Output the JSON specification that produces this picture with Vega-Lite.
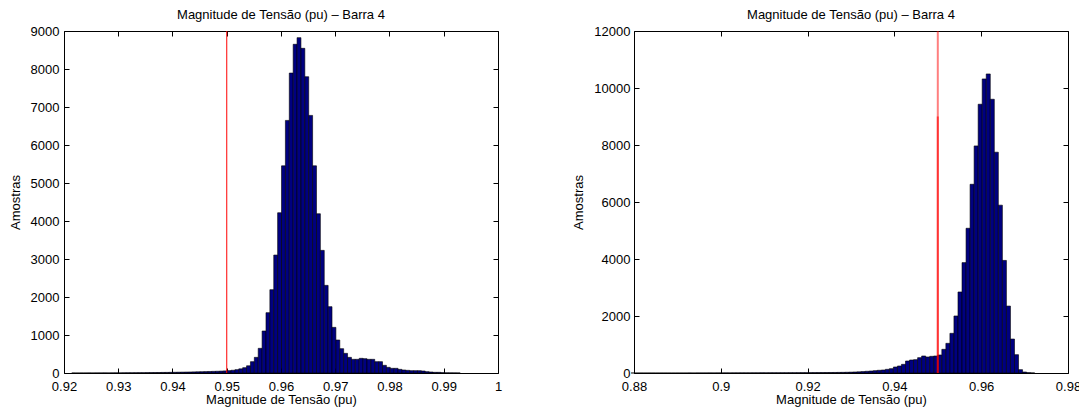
{
  "$schema": "https://vega.github.io/schema/vega-lite/v6.json",
  "background": "white",
  "padding": {"left": 8, "top": 8, "right": 0, "bottom": 0},
  "spacing": 69,
  "config": {
    "font": "Liberation Sans",
    "view": {"stroke": "black", "strokeWidth": 1},
    "axis": {
      "grid": false, "domain": false, "tickColor": "black", "labelColor": "black", "titleColor": "black",
      "labelFont": "Liberation Sans", "titleFont": "Liberation Sans", "labelFontSize": 13, "titleFontSize": 13,
      "titleFontWeight": "normal", "tickSize": -5, "tickWidth": 1, "labelFlush": false, "labelOverlap": false
    },
    "title": {"font": "Liberation Sans", "fontSize": 13, "fontWeight": "normal", "color": "black", "offset": 3}
  },
  "datasets": {
    "left": [
      {"x0":0.921432,"x1":0.922148,"n":1},{"x0":0.922148,"x1":0.922864,"n":0},{"x0":0.922864,"x1":0.92358,"n":1},
      {"x0":0.92358,"x1":0.924296,"n":1},{"x0":0.924296,"x1":0.925012,"n":2},{"x0":0.925012,"x1":0.925728,"n":1},
      {"x0":0.925728,"x1":0.926444,"n":2},{"x0":0.926444,"x1":0.92716,"n":2},{"x0":0.92716,"x1":0.927876,"n":3},
      {"x0":0.927876,"x1":0.928592,"n":2},{"x0":0.928592,"x1":0.929308,"n":3},{"x0":0.929308,"x1":0.930024,"n":4},
      {"x0":0.930024,"x1":0.93074,"n":3},{"x0":0.93074,"x1":0.931456,"n":5},{"x0":0.931456,"x1":0.932172,"n":5},
      {"x0":0.932172,"x1":0.932888,"n":6},{"x0":0.932888,"x1":0.933604,"n":7},{"x0":0.933604,"x1":0.93432,"n":8},
      {"x0":0.93432,"x1":0.935036,"n":8},{"x0":0.935036,"x1":0.935752,"n":10},{"x0":0.935752,"x1":0.936468,"n":11},
      {"x0":0.936468,"x1":0.937184,"n":12},{"x0":0.937184,"x1":0.9379,"n":13},{"x0":0.9379,"x1":0.938616,"n":15},
      {"x0":0.938616,"x1":0.939332,"n":16},{"x0":0.939332,"x1":0.940048,"n":18},{"x0":0.940048,"x1":0.940764,"n":19},
      {"x0":0.940764,"x1":0.94148,"n":21},{"x0":0.94148,"x1":0.942196,"n":23},{"x0":0.942196,"x1":0.942912,"n":25},
      {"x0":0.942912,"x1":0.943628,"n":27},{"x0":0.943628,"x1":0.944344,"n":29},{"x0":0.944344,"x1":0.94506,"n":32},
      {"x0":0.94506,"x1":0.945776,"n":34},{"x0":0.945776,"x1":0.946492,"n":37},{"x0":0.946492,"x1":0.947208,"n":40},
      {"x0":0.947208,"x1":0.947924,"n":43},{"x0":0.947924,"x1":0.94864,"n":46},{"x0":0.94864,"x1":0.949356,"n":50},
      {"x0":0.949356,"x1":0.950072,"n":55},{"x0":0.950072,"x1":0.950788,"n":62},{"x0":0.950788,"x1":0.951504,"n":72},
      {"x0":0.951504,"x1":0.95222,"n":88},{"x0":0.95222,"x1":0.952936,"n":110},{"x0":0.952936,"x1":0.953652,"n":140},
      {"x0":0.953652,"x1":0.954368,"n":190},{"x0":0.954368,"x1":0.955084,"n":298},{"x0":0.955084,"x1":0.9558,"n":412},
      {"x0":0.9558,"x1":0.956516,"n":649},{"x0":0.956516,"x1":0.957232,"n":1105},{"x0":0.957232,"x1":0.957948,"n":1587},
      {"x0":0.957948,"x1":0.958664,"n":2192},{"x0":0.958664,"x1":0.95938,"n":3104},{"x0":0.95938,"x1":0.960096,"n":4217},
      {"x0":0.960096,"x1":0.960812,"n":5452},{"x0":0.960812,"x1":0.961528,"n":6647},{"x0":0.961528,"x1":0.962244,"n":7893},
      {"x0":0.962244,"x1":0.96296,"n":8650},{"x0":0.96296,"x1":0.963676,"n":8825},{"x0":0.963676,"x1":0.964392,"n":8544},
      {"x0":0.964392,"x1":0.965108,"n":7797},{"x0":0.965108,"x1":0.965824,"n":6779},{"x0":0.965824,"x1":0.96654,"n":5452},
      {"x0":0.96654,"x1":0.967256,"n":4191},{"x0":0.967256,"x1":0.967972,"n":3227},{"x0":0.967972,"x1":0.968688,"n":2306},
      {"x0":0.968688,"x1":0.969404,"n":1745},{"x0":0.969404,"x1":0.97012,"n":1201},{"x0":0.97012,"x1":0.970836,"n":868},
      {"x0":0.970836,"x1":0.971552,"n":640},{"x0":0.971552,"x1":0.972268,"n":517},{"x0":0.972268,"x1":0.972984,"n":412},
      {"x0":0.972984,"x1":0.9737,"n":360},{"x0":0.9737,"x1":0.974416,"n":360},{"x0":0.974416,"x1":0.975132,"n":386},
      {"x0":0.975132,"x1":0.975848,"n":377},{"x0":0.975848,"x1":0.976564,"n":360},{"x0":0.976564,"x1":0.97728,"n":360},
      {"x0":0.97728,"x1":0.977996,"n":298},{"x0":0.977996,"x1":0.978712,"n":298},{"x0":0.978712,"x1":0.979428,"n":202},
      {"x0":0.979428,"x1":0.980144,"n":149},{"x0":0.980144,"x1":0.98086,"n":123},{"x0":0.98086,"x1":0.981576,"n":123},
      {"x0":0.981576,"x1":0.982292,"n":96},{"x0":0.982292,"x1":0.983008,"n":79},{"x0":0.983008,"x1":0.983724,"n":70},
      {"x0":0.983724,"x1":0.98444,"n":61},{"x0":0.98444,"x1":0.985156,"n":61},{"x0":0.985156,"x1":0.985872,"n":61},
      {"x0":0.985872,"x1":0.986588,"n":53},{"x0":0.986588,"x1":0.987304,"n":35},{"x0":0.987304,"x1":0.98802,"n":26},
      {"x0":0.98802,"x1":0.988736,"n":18},{"x0":0.988736,"x1":0.989452,"n":18},{"x0":0.989452,"x1":0.990168,"n":9},
      {"x0":0.990168,"x1":0.990884,"n":5},{"x0":0.990884,"x1":0.9916,"n":4},{"x0":0.9916,"x1":0.992316,"n":3},
      {"x0":0.992316,"x1":0.993032,"n":2}
    ],
    "right": [
      {"x0":0.87932,"x1":0.88025,"n":1},{"x0":0.88025,"x1":0.88118,"n":0},{"x0":0.88118,"x1":0.88211,"n":1},
      {"x0":0.88211,"x1":0.88304,"n":0},{"x0":0.88304,"x1":0.88397,"n":1},{"x0":0.88397,"x1":0.8849,"n":1},
      {"x0":0.8849,"x1":0.88583,"n":0},{"x0":0.88583,"x1":0.88676,"n":1},{"x0":0.88676,"x1":0.88769,"n":1},
      {"x0":0.88769,"x1":0.88862,"n":1},{"x0":0.88862,"x1":0.88955,"n":0},{"x0":0.88955,"x1":0.89048,"n":1},
      {"x0":0.89048,"x1":0.89141,"n":1},{"x0":0.89141,"x1":0.89234,"n":1},{"x0":0.89234,"x1":0.89327,"n":2},
      {"x0":0.89327,"x1":0.8942,"n":1},{"x0":0.8942,"x1":0.89513,"n":2},{"x0":0.89513,"x1":0.89606,"n":2},
      {"x0":0.89606,"x1":0.89699,"n":2},{"x0":0.89699,"x1":0.89792,"n":3},{"x0":0.89792,"x1":0.89885,"n":2},
      {"x0":0.89885,"x1":0.89978,"n":3},{"x0":0.89978,"x1":0.90071,"n":3},{"x0":0.90071,"x1":0.90164,"n":4},
      {"x0":0.90164,"x1":0.90257,"n":3},{"x0":0.90257,"x1":0.9035,"n":4},{"x0":0.9035,"x1":0.90443,"n":4},
      {"x0":0.90443,"x1":0.90536,"n":5},{"x0":0.90536,"x1":0.90629,"n":5},{"x0":0.90629,"x1":0.90722,"n":5},
      {"x0":0.90722,"x1":0.90815,"n":6},{"x0":0.90815,"x1":0.90908,"n":6},{"x0":0.90908,"x1":0.91001,"n":7},
      {"x0":0.91001,"x1":0.91094,"n":7},{"x0":0.91094,"x1":0.91187,"n":8},{"x0":0.91187,"x1":0.9128,"n":8},
      {"x0":0.9128,"x1":0.91373,"n":8},{"x0":0.91373,"x1":0.91466,"n":9},{"x0":0.91466,"x1":0.91559,"n":9},
      {"x0":0.91559,"x1":0.91652,"n":10},{"x0":0.91652,"x1":0.91745,"n":10},{"x0":0.91745,"x1":0.91838,"n":11},
      {"x0":0.91838,"x1":0.91931,"n":12},{"x0":0.91931,"x1":0.92024,"n":12},{"x0":0.92024,"x1":0.92117,"n":13},
      {"x0":0.92117,"x1":0.9221,"n":14},{"x0":0.9221,"x1":0.92303,"n":15},{"x0":0.92303,"x1":0.92396,"n":16},
      {"x0":0.92396,"x1":0.92489,"n":17},{"x0":0.92489,"x1":0.92582,"n":18},{"x0":0.92582,"x1":0.92675,"n":19},
      {"x0":0.92675,"x1":0.92768,"n":21},{"x0":0.92768,"x1":0.92861,"n":23},{"x0":0.92861,"x1":0.92954,"n":26},
      {"x0":0.92954,"x1":0.93047,"n":30},{"x0":0.93047,"x1":0.9314,"n":36},{"x0":0.9314,"x1":0.93233,"n":42},
      {"x0":0.93233,"x1":0.93326,"n":50},{"x0":0.93326,"x1":0.93419,"n":60},{"x0":0.93419,"x1":0.93512,"n":70},
      {"x0":0.93512,"x1":0.93605,"n":82},{"x0":0.93605,"x1":0.93698,"n":95},{"x0":0.93698,"x1":0.93791,"n":105},
      {"x0":0.93791,"x1":0.93884,"n":129},{"x0":0.93884,"x1":0.93977,"n":152},{"x0":0.93977,"x1":0.9407,"n":211},
      {"x0":0.9407,"x1":0.94163,"n":246},{"x0":0.94163,"x1":0.94256,"n":304},{"x0":0.94256,"x1":0.94349,"n":421},
      {"x0":0.94349,"x1":0.94442,"n":456},{"x0":0.94442,"x1":0.94535,"n":468},{"x0":0.94535,"x1":0.94628,"n":538},
      {"x0":0.94628,"x1":0.94721,"n":597},{"x0":0.94721,"x1":0.94814,"n":562},{"x0":0.94814,"x1":0.94907,"n":585},
      {"x0":0.94907,"x1":0.95,"n":597},{"x0":0.95,"x1":0.95093,"n":632},{"x0":0.95093,"x1":0.95186,"n":831},
      {"x0":0.95186,"x1":0.95279,"n":1041},{"x0":0.95279,"x1":0.95372,"n":1392},{"x0":0.95372,"x1":0.95465,"n":2001},
      {"x0":0.95465,"x1":0.95558,"n":2843},{"x0":0.95558,"x1":0.95651,"n":3873},{"x0":0.95651,"x1":0.95744,"n":5078},
      {"x0":0.95744,"x1":0.95837,"n":6622},{"x0":0.95837,"x1":0.9593,"n":7968},{"x0":0.9593,"x1":0.96023,"n":9430},
      {"x0":0.96023,"x1":0.96116,"n":10318},{"x0":0.96116,"x1":0.96209,"n":10493},{"x0":0.96209,"x1":0.96302,"n":9605},
      {"x0":0.96302,"x1":0.96395,"n":7747},{"x0":0.96395,"x1":0.96488,"n":5889},{"x0":0.96488,"x1":0.96581,"n":3950},
      {"x0":0.96581,"x1":0.96674,"n":2349},{"x0":0.96674,"x1":0.96767,"n":1192},{"x0":0.96767,"x1":0.9686,"n":643},
      {"x0":0.9686,"x1":0.96953,"n":117},{"x0":0.96953,"x1":0.97046,"n":35},{"x0":0.97046,"x1":0.97139,"n":12},
      {"x0":0.97139,"x1":0.97232,"n":3}
    ]
  },
  "hconcat": [
    {
      "width": 434, "height": 342,
      "title": "Magnitude de Tensão (pu) – Barra 4",
      "layer": [
        {
          "data": {"name": "left"},
          "mark": {"type": "rect", "fill": "#000080", "stroke": "black", "strokeWidth": 0.6},
          "encoding": {
            "x": {"field": "x0", "type": "quantitative",
                  "scale": {"domain": [0.92, 1], "nice": false, "zero": false},
                  "axis": {"orient": "bottom", "values": [0.92,0.93,0.94,0.95,0.96,0.97,0.98,0.99,1], "format": ".2~f",
                           "title": "Magnitude de Tensão (pu)", "labelPadding": 12, "titlePadding": 0}},
            "x2": {"field": "x1"},
            "y": {"field": "n", "type": "quantitative",
                  "scale": {"domain": [0, 9000], "nice": false},
                  "axis": {"orient": "left", "values": [0,1000,2000,3000,4000,5000,6000,7000,8000,9000], "format": "d",
                           "title": "Amostras", "labelPadding": 10, "titlePadding": 8}},
            "y2": {"datum": 0}
          }
        },
        {
          "data": {"values": [{"v": 0.95, "lo": 0, "hi": 9000}]},
          "mark": {"type": "rule", "color": "#ff0000", "strokeWidth": 1},
          "encoding": {
            "x": {"field": "v", "type": "quantitative",
                  "scale": {"domain": [0.92, 1], "nice": false, "zero": false},
                  "axis": {"orient": "top", "labels": false, "title": null, "values": [0.92,0.93,0.94,0.95,0.96,0.97,0.98,0.99,1]}},
            "y": {"field": "lo", "type": "quantitative",
                  "scale": {"domain": [0, 9000], "nice": false},
                  "axis": {"orient": "right", "labels": false, "title": null, "values": [0,1000,2000,3000,4000,5000,6000,7000,8000,9000]}},
            "y2": {"field": "hi"}
          }
        }
      ],
      "resolve": {"axis": {"x": "independent", "y": "independent"}}
    },
    {
      "width": 434, "height": 342,
      "title": "Magnitude de Tensão (pu) – Barra 4",
      "layer": [
        {
          "data": {"name": "right"},
          "mark": {"type": "rect", "fill": "#000080", "stroke": "black", "strokeWidth": 0.6},
          "encoding": {
            "x": {"field": "x0", "type": "quantitative",
                  "scale": {"domain": [0.88, 0.98], "nice": false, "zero": false},
                  "axis": {"orient": "bottom", "values": [0.88,0.9,0.92,0.94,0.96,0.98], "format": ".2~f",
                           "title": "Magnitude de Tensão (pu)", "labelPadding": 12, "titlePadding": 0}},
            "x2": {"field": "x1"},
            "y": {"field": "n", "type": "quantitative",
                  "scale": {"domain": [0, 12000], "nice": false},
                  "axis": {"orient": "left", "values": [0,2000,4000,6000,8000,10000,12000], "format": "d",
                           "title": "Amostras", "labelPadding": 9, "titlePadding": 8}},
            "y2": {"datum": 0}
          }
        },
        {
          "data": {"values": [{"v": 0.95, "lo": 0, "hi": 12000}]},
          "mark": {"type": "rule", "color": "#ff0000", "strokeWidth": 2, "opacity": 0.5},
          "encoding": {
            "x": {"field": "v", "type": "quantitative",
                  "scale": {"domain": [0.88, 0.98], "nice": false, "zero": false},
                  "axis": {"orient": "top", "labels": false, "title": null, "values": [0.88,0.9,0.92,0.94,0.96,0.98]}},
            "y": {"field": "lo", "type": "quantitative",
                  "scale": {"domain": [0, 12000], "nice": false},
                  "axis": {"orient": "right", "labels": false, "title": null, "values": [0,2000,4000,6000,8000,10000,12000]}},
            "y2": {"field": "hi"}
          }
        },
        {
          "data": {"values": [{"v": 0.95, "lo": 0, "hi": 9000}]},
          "mark": {"type": "rule", "color": "#ff0000", "strokeWidth": 2, "opacity": 0.6},
          "encoding": {
            "x": {"field": "v", "type": "quantitative", "scale": {"domain": [0.88, 0.98], "nice": false, "zero": false}, "axis": null},
            "y": {"field": "lo", "type": "quantitative", "scale": {"domain": [0, 12000], "nice": false}, "axis": null},
            "y2": {"field": "hi"}
          }
        }
      ],
      "resolve": {"axis": {"x": "independent", "y": "independent"}}
    }
  ]
}
